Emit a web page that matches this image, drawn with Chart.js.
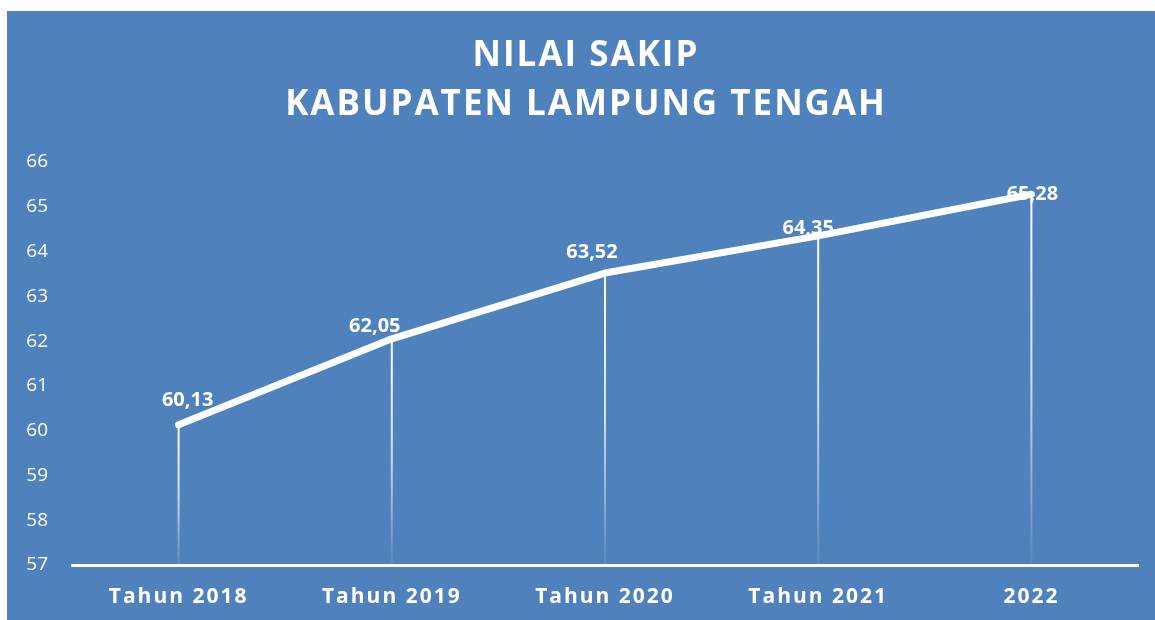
<!DOCTYPE html>
<html>
<head>
<meta charset="utf-8">
<script src="https://cdn.jsdelivr.net/npm/chart.js@4.4.1/dist/chart.umd.min.js"></script>
<style>
    html, body { margin: 0; padding: 0; background: #ffffff; }
    #panel { position: absolute; left: 7px; top: 11px; width: 1148px; height: 609px; background: #4f81bd; }
</style>
</head>
<body>
<div id="panel"><canvas id="sakipChart" width="1148" height="609"></canvas></div>
<script>
const years = ['Tahun 2018', 'Tahun 2019', 'Tahun 2020', 'Tahun 2021', '2022'];
const sakipValues = [60.13, 62.05, 63.52, 64.35, 65.28];
const titleLines = ['NILAI SAKIP', 'KABUPATEN LAMPUNG TENGAH'];

// label nudges (px) as placed by hand in the original
const labelShift = [[9, -25], [-17, -13], [-13, -21], [-10, -8], [1, 0]];

const fmt = v => v.toFixed(2).replace('.', ',');

// spaced letters for title and category labels (title also nudged right)
const letterSpacing = {
    id: 'letterSpacing',
    beforeDraw(chart) {
        const ctx = chart.ctx;
        const wrap = (obj, name, spacing, dx) => {
            if (!obj || obj['_sp_' + name]) return;
            const orig = obj[name].bind(obj);
            obj[name] = function (...args) {
                ctx.save();
                ctx.letterSpacing = spacing;
                ctx.translate(dx, 0);
                orig(...args);
                ctx.restore();
            };
            obj['_sp_' + name] = true;
        };
        wrap(chart.titleBlock, 'draw', '2px', 13.5);
        wrap(chart.scales.x, 'drawLabels', '2px', 0);
    }
};

// vertical drop lines fading down to the axis
const dropLines = {
    id: 'dropLines',
    beforeDatasetsDraw(chart) {
        const ctx = chart.ctx;
        const bottom = chart.chartArea.bottom;
        chart.getDatasetMeta(0).data.forEach(pt => {
            const g = ctx.createLinearGradient(0, pt.y, 0, bottom);
            g.addColorStop(0, 'rgba(255,255,255,1)');
            g.addColorStop(0.5, 'rgba(255,255,255,0.75)');
            g.addColorStop(1, 'rgba(255,255,255,0.05)');
            ctx.save();
            ctx.strokeStyle = g;
            ctx.lineWidth = 2;
            ctx.beginPath();
            ctx.moveTo(pt.x, pt.y);
            ctx.lineTo(pt.x, bottom);
            ctx.stroke();
            ctx.restore();
        });
    }
};

const valueLabels = {
    id: 'valueLabels',
    afterDatasetsDraw(chart) {
        const ctx = chart.ctx;
        ctx.save();
        ctx.font = 'bold 20px "Open Sans"';
        ctx.fillStyle = '#ffffff';
        ctx.textAlign = 'center';
        ctx.textBaseline = 'middle';
        chart.getDatasetMeta(0).data.forEach((pt, i) => {
            const [dx, dy] = labelShift[i];
            ctx.fillText(fmt(sakipValues[i]), pt.x + dx, pt.y + dy);
        });
        ctx.restore();
    }
};

new Chart(document.getElementById('sakipChart').getContext('2d'), {
    type: 'line',
    data: {
        labels: years,
        datasets: [{
            data: sakipValues,
            borderColor: '#ffffff',
            borderWidth: 7,
            borderCapStyle: 'round',
            borderJoinStyle: 'round',
            pointRadius: 0,
            tension: 0,
            fill: false
        }]
    },
    options: {
        responsive: false,
        animation: false,
        layout: { padding: { left: 0, right: 17, top: 0, bottom: 0 } },
        scales: {
            x: {
                offset: true,
                grid: { display: false, drawTicks: false },
                border: { display: true, color: '#ffffff', width: 3 },
                ticks: { color: '#ffffff', padding: 19, font: { family: 'Open Sans', size: 21, weight: 'bold' } },
                afterFit(scale) { scale.height = 55; }
            },
            y: {
                min: 57,
                max: 66,
                grid: { display: false, drawTicks: false },
                border: { display: false },
                ticks: { stepSize: 1, color: '#ffffff', padding: 24, font: { family: 'Open Sans', size: 19 } },
                afterFit(scale) { scale.width = 65; }
            }
        },
        plugins: {
            legend: { display: false },
            tooltip: { enabled: false },
            title: {
                display: true,
                text: titleLines,
                color: '#ffffff',
                font: { family: 'Open Sans', size: 35, weight: 'bold', lineHeight: 1.414 },
                padding: { top: 20, bottom: 32 }
            }
        }
    },
    plugins: [letterSpacing, dropLines, valueLabels]
});
</script>
</body>
</html>
